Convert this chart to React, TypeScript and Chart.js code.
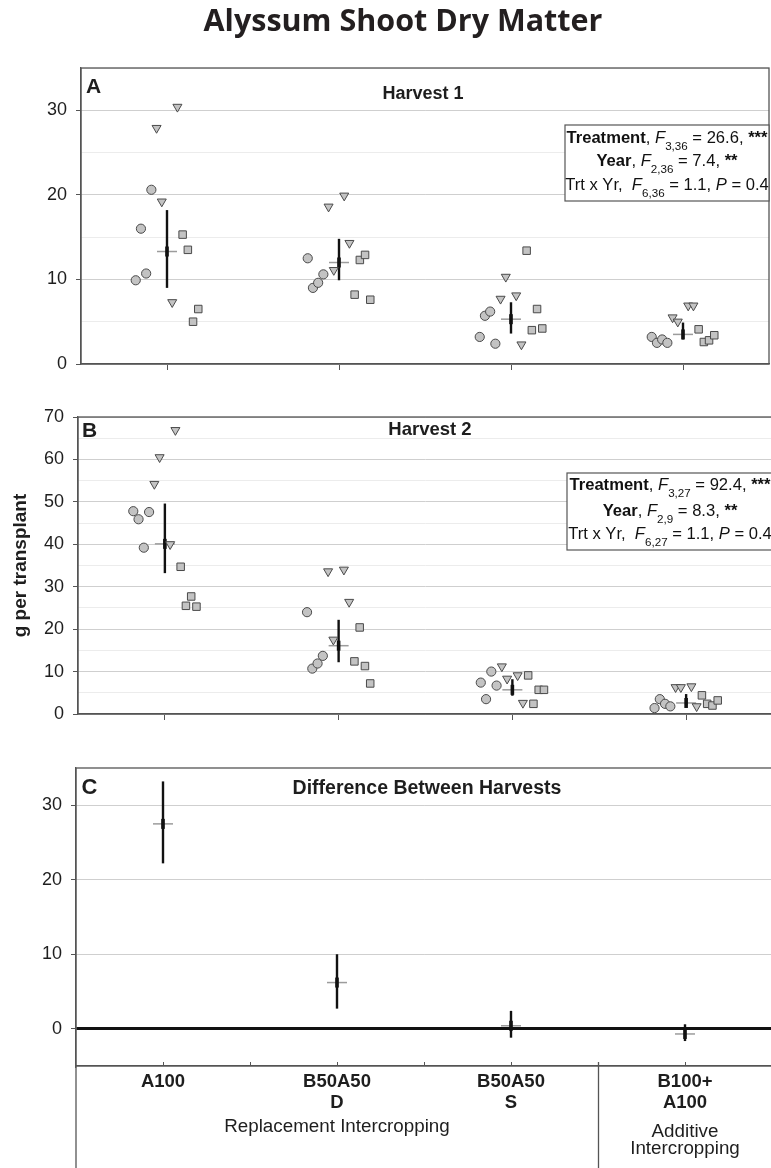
import React, { useEffect, useRef } from 'react';
import { Chart, registerables } from 'chart.js';

Chart.register(...registerables);

// ---------------- data ----------------
const CATEGORIES = ['A100', 'B50A50 D', 'B50A50 S', 'B100+ A100'];
const CATEGORY_TICK_LABELS = [['A100'], ['B50A50', 'D'], ['B50A50', 'S'], ['B100+', 'A100']];
const GROUP_LABELS = [['Replacement Intercropping'], ['Additive', 'Intercropping']];
const GROUP_SPANS = [[0, 2], [3, 3]];
const YEARS = ['Year 1', 'Year 2', 'Year 3'];

// Harvest 1 (g per transplant): four replicates per year and treatment
const H1_YEAR1 = [[9.9, 16.0, 10.7, 20.6], [12.5, 9.0, 9.6, 10.6], [3.2, 5.7, 6.2, 2.4], [3.2, 2.5, 2.9, 2.5]];
const H1_YEAR2 = [[27.9, 19.2, 7.3, 30.4], [18.6, 11.1, 19.9, 14.3], [7.7, 10.3, 8.1, 2.3], [5.5, 5.0, 6.9, 6.9]];
const H1_YEAR3 = [[15.3, 13.5, 5.0, 6.5], [8.2, 12.3, 12.9, 7.6], [13.4, 4.0, 6.5, 4.2], [4.1, 2.6, 2.8, 3.4]];
const H1_MEAN = [13.3, 12.0, 5.3, 3.5];
const H1_LOW = [9.0, 9.9, 3.6, 2.9];
const H1_HIGH = [18.2, 14.8, 7.3, 4.9];

// Harvest 2
const H2_YEAR1 = [[47.8, 45.9, 39.2, 47.6], [24.0, 10.7, 11.9, 13.7], [7.4, 3.5, 10.0, 6.7], [1.4, 3.5, 2.4, 1.8]];
const H2_YEAR2 = [[54.2, 60.5, 40.0, 66.9], [33.6, 17.5, 34.0, 26.4], [11.2, 8.3, 9.1, 2.6], [6.3, 6.3, 6.5, 1.8]];
const H2_YEAR3 = [[34.7, 25.5, 27.7, 25.3], [12.4, 20.4, 11.3, 7.2], [9.1, 2.4, 5.7, 5.7], [4.4, 2.4, 2.0, 3.2]];
const H2_MEAN = [40.1, 16.1, 5.7, 2.6];
const H2_LOW = [33.2, 12.2, 4.3, 2.1];
const H2_HIGH = [49.6, 22.2, 8.2, 4.7];

// Difference between harvests
const DIFF_MEAN = [27.5, 6.2, 0.4, -0.7];
const DIFF_LOW = [22.2, 2.7, -1.2, -1.65];
const DIFF_HIGH = [33.2, 10.0, 2.4, 0.6];

// Axis tick labels
const Y_TICK_LABELS_H1 = [0, 10, 20, 30];
const Y_TICK_LABELS_H2 = [0, 10, 20, 30, 40, 50, 60, 70];
const Y_TICK_LABELS_DIFF = [0, 10, 20, 30];

// Statistics annotations
const STATS_H1 = [
  [{ t: 'Treatment', b: true }, { t: ', ' }, { t: 'F', i: true }, { t: '3,36', s: true }, { t: ' = 26.6, ' }, { t: '***', b: true }],
  [{ t: 'Year', b: true }, { t: ', ' }, { t: 'F', i: true }, { t: '2,36', s: true }, { t: ' = 7.4, ' }, { t: '**', b: true }],
  [{ t: 'Trt x Yr,  ' }, { t: 'F', i: true }, { t: '6,36', s: true }, { t: ' = 1.1, ' }, { t: 'P', i: true }, { t: ' = 0.4' }],
];
const STATS_H2 = [
  [{ t: 'Treatment', b: true }, { t: ', ' }, { t: 'F', i: true }, { t: '3,27', s: true }, { t: ' = 92.4, ' }, { t: '***', b: true }],
  [{ t: 'Year', b: true }, { t: ', ' }, { t: 'F', i: true }, { t: '2,9', s: true }, { t: ' = 8.3, ' }, { t: '**', b: true }],
  [{ t: 'Trt x Yr,  ' }, { t: 'F', i: true }, { t: '6,27', s: true }, { t: ' = 1.1, ' }, { t: 'P', i: true }, { t: ' = 0.4' }],
];

// ---------------- styling ----------------
const FONT = "'Liberation Sans', Arial, Helvetica, sans-serif";
const TEXT = '#1e1e1e';
const AXIS = '#555555';
const SLOTS = [[-6, -5, -4, -3], [-2, -1, 1, 2], [3, 4, 5, 6]];
const STEP = 0.0303;
const MARKERS = [
  { style: 'circle', radius: 4.6, rotation: 0 },
  { style: 'triangle', radius: 5.2, rotation: 180 },
  { style: 'rect', radius: 5.3, rotation: 0 },
];

function drawRich(ctx: CanvasRenderingContext2D, segs: any[], cx: number, baseline: number, size: number) {
  const fontFor = (s: any) => `${s.i ? 'italic ' : ''}${s.b ? 'bold ' : ''}${s.s ? size * 0.7 : size}px ${FONT}`;
  let total = 0;
  for (const s of segs) {
    ctx.font = fontFor(s);
    total += ctx.measureText(s.t).width;
  }
  let x = cx - total / 2;
  ctx.textAlign = 'left';
  ctx.textBaseline = 'alphabetic';
  for (const s of segs) {
    ctx.font = fontFor(s);
    ctx.fillText(s.t, x, baseline + (s.s ? size * 0.44 : 0));
    x += ctx.measureText(s.t).width;
  }
}

function makeDecor(cfg: any) {
  return {
    id: 'decor',
    afterDatasetsDraw(chart: any) {
      const { ctx, chartArea: a } = chart;
      const xs = chart.scales.x;
      ctx.save();
      ctx.strokeStyle = AXIS;
      ctx.lineWidth = 1.3;
      ctx.strokeRect(a.left, a.top, a.right - a.left, a.bottom - a.top);
      ctx.fillStyle = TEXT;
      ctx.textBaseline = 'alphabetic';
      ctx.textAlign = 'left';
      ctx.font = `bold ${cfg.letterSize}px ${FONT}`;
      ctx.fillText(cfg.letter, a.left + cfg.letterDx, a.top + cfg.letterDy);
      ctx.textAlign = 'center';
      ctx.font = `bold ${cfg.subtitleSize}px ${FONT}`;
      ctx.fillText(cfg.subtitle, (a.left + a.right) / 2 + cfg.subtitleDx, a.top + cfg.subtitleDy);
      if (cfg.stats) {
        const b = cfg.box;
        const x0 = a.left + b.dx, y0 = a.top + b.dy, x1 = a.right, h = b.h;
        ctx.fillStyle = '#ffffff';
        ctx.fillRect(x0, y0, x1 - x0, h);
        ctx.strokeStyle = AXIS;
        ctx.lineWidth = 1.2;
        ctx.strokeRect(x0, y0, x1 - x0, h);
        ctx.fillStyle = '#111111';
        cfg.stats.forEach((line: any[], i: number) => drawRich(ctx, line, (x0 + x1) / 2, y0 + b.baselines[i], b.size));
      }
      if (cfg.groups) {
        ctx.strokeStyle = AXIS;
        ctx.lineWidth = 1;
        for (let v = 0; v < CATEGORIES.length; v += 0.5) {
          const px = Math.round(xs.getPixelForValue(v)) + 0.5;
          ctx.beginPath();
          ctx.moveTo(px, a.bottom);
          ctx.lineTo(px, a.bottom - 4);
          ctx.stroke();
        }
        ctx.lineWidth = 1.3;
        ctx.beginPath();
        ctx.moveTo(a.left, a.bottom);
        ctx.lineTo(a.left, chart.height);
        ctx.stroke();
        GROUP_SPANS.forEach((span, gi) => {
          if (gi < GROUP_SPANS.length - 1) {
            const px = Math.round(xs.getPixelForValue(span[1] + 0.5)) + 0.5;
            ctx.beginPath();
            ctx.moveTo(px, a.bottom - 4);
            ctx.lineTo(px, chart.height);
            ctx.stroke();
          }
          const cx = xs.getPixelForValue((span[0] + span[1]) / 2);
          ctx.fillStyle = TEXT;
          ctx.textAlign = 'center';
          ctx.font = `${cfg.groupSize}px ${FONT}`;
          GROUP_LABELS[gi].forEach((txt, li) => ctx.fillText(txt, cx, a.bottom + cfg.groupBaselines[gi][li]));
        });
      }
      ctx.restore();
    },
  };
}

function pointDatasets(years: number[][][]) {
  return years.map((vals, yi) => ({
    label: YEARS[yi],
    data: vals.flatMap((reps, c) => reps.map((y, j) => ({ x: c + SLOTS[yi][j] * STEP, y }))),
    pointStyle: MARKERS[yi].style,
    pointRadius: MARKERS[yi].radius,
    pointRotation: MARKERS[yi].rotation,
    pointBackgroundColor: '#c3c3c3',
    pointBorderColor: '#4a4a4a',
    pointBorderWidth: 1,
    showLine: false,
  }));
}

function summaryDatasets(mean: number[], low: number[], high: number[]) {
  const bars = low.map((lo, c) => ({
    label: `${CATEGORIES[c]} interval`,
    data: [{ x: c, y: lo }, { x: c, y: high[c] }],
    showLine: true,
    borderColor: '#111111',
    borderWidth: 2.4,
    borderCapStyle: 'butt',
    pointRadius: 0,
  }));
  const cross = {
    label: 'Mean (tick)',
    data: mean.map((y, c) => ({ x: c, y })),
    pointStyle: 'line',
    pointRadius: 5,
    pointRotation: 90,
    pointBorderColor: '#111111',
    pointBorderWidth: 3.6,
    showLine: false,
  };
  const meanLine = {
    label: 'Mean',
    data: mean.map((y, c) => ({ x: c, y })),
    pointStyle: 'line',
    pointRadius: 10,
    pointBorderColor: '#9c9c9c',
    pointBorderWidth: 1.5,
    showLine: false,
  };
  return [...bars, cross, meanLine];
}

function yAxis(min: number, max: number, labels: number[], width: number, minorStep: number | null, extra: any = {}) {
  return {
    type: 'linear',
    min,
    max,
    afterBuildTicks: (scale: any) => {
      const ticks: any[] = [];
      if (minorStep) {
        for (let v = min; v <= max + 1e-9; v += minorStep) ticks.push({ value: v });
      } else {
        labels.forEach((v) => ticks.push({ value: v }));
      }
      scale.ticks = ticks;
    },
    afterFit: (scale: any) => {
      scale.width = width;
      scale.paddingTop = 0;
      scale.paddingBottom = 0;
    },
    ticks: {
      callback: (v: number) => (labels.includes(v) ? String(v) : ''),
      font: { family: FONT, size: 18 },
      color: TEXT,
      padding: 9,
      autoSkip: false,
    },
    grid: {
      color: (c: any) => (c.tick && c.tick.value === 0 && extra.zeroLine ? '#111111' : c.tick && c.tick.value % 10 === 0 ? '#cfcfcf' : '#ececec'),
      lineWidth: (c: any) => (c.tick && c.tick.value === 0 && extra.zeroLine ? 3 : 1),
      tickColor: (c: any) => (c.tick && c.tick.value % 10 === 0 ? AXIS : 'rgba(0,0,0,0)'),
      tickWidth: 1,
      tickLength: 5,
    },
    border: { display: true, color: AXIS, width: 1.3 },
    title: extra.title || { display: false },
  };
}

function xAxis(height: number, withLabels: boolean) {
  return {
    type: 'linear',
    min: -0.5,
    max: CATEGORIES.length - 0.5,
    afterBuildTicks: (scale: any) => {
      scale.ticks = CATEGORIES.map((_, i) => ({ value: i }));
    },
    afterFit: (scale: any) => {
      scale.height = height;
      scale.paddingLeft = 0;
      scale.paddingRight = 0;
    },
    ticks: withLabels
      ? {
          display: true,
          callback: (v: number) => CATEGORY_TICK_LABELS[v] || '',
          font: { family: FONT, size: 18.5, weight: 'bold', lineHeight: 1.14 },
          color: TEXT,
          padding: 5,
          maxRotation: 0,
          autoSkip: false,
        }
      : { display: false },
    grid: withLabels
      ? { display: true, drawOnChartArea: false, drawTicks: false }
      : { display: true, drawOnChartArea: false, drawTicks: true, tickLength: 6, color: AXIS, lineWidth: 1 },
    border: { display: true, color: AXIS, width: 1.3 },
  };
}

function baseOptions(extraPlugins: any = {}) {
  return {
    animation: false,
    responsive: false,
    maintainAspectRatio: false,
    events: [],
    plugins: { legend: { display: false }, tooltip: { enabled: false }, ...extraPlugins },
  };
}

function configH1() {
  return {
    type: 'scatter',
    data: { datasets: [...pointDatasets([H1_YEAR1, H1_YEAR2, H1_YEAR3]), ...summaryDatasets(H1_MEAN, H1_LOW, H1_HIGH)] },
    options: {
      ...baseOptions({
        title: {
          display: true,
          text: 'Alyssum Shoot Dry Matter',
          font: { family: '"Open Sans", Lato, sans-serif', size: 30.5, weight: 'bold', lineHeight: 1.2 },
          color: '#231f20',
          padding: { top: 4, bottom: 27.4 },
        },
      }),
      layout: { autoPadding: false, padding: { left: 37, right: 2, top: 0, bottom: 0 } },
      scales: { x: xAxis(36, false), y: yAxis(0, 35, Y_TICK_LABELS_H1, 44, 5) },
    },
    plugins: [
      makeDecor({
        letter: 'A', letterSize: 21, letterDx: 5, letterDy: 25,
        subtitle: 'Harvest 1', subtitleSize: 18, subtitleDx: -2, subtitleDy: 31,
        stats: STATS_H1,
        box: { dx: 484, dy: 57, h: 76, baselines: [18, 41, 65], size: 16.6 },
      }),
    ],
  };
}

function configH2() {
  return {
    type: 'scatter',
    data: { datasets: [...pointDatasets([H2_YEAR1, H2_YEAR2, H2_YEAR3]), ...summaryDatasets(H2_MEAN, H2_LOW, H2_HIGH)] },
    options: {
      ...baseOptions(),
      layout: { autoPadding: false, padding: { left: 0, right: 7, top: 22, bottom: 0 } },
      scales: {
        x: xAxis(21, false),
        y: yAxis(0, 70, Y_TICK_LABELS_H2, 78, 5, {
          title: {
            display: true,
            text: 'g per transplant',
            font: { family: FONT, size: 19, weight: 'bold', lineHeight: 1.2 },
            color: TEXT,
            padding: { top: 9, bottom: 0 },
          },
        }),
      },
    },
    plugins: [
      makeDecor({
        letter: 'B', letterSize: 21, letterDx: 4, letterDy: 20,
        subtitle: 'Harvest 2', subtitleSize: 18.5, subtitleDx: 4.5, subtitleDy: 18,
        stats: STATS_H2,
        box: { dx: 489, dy: 56, h: 77, baselines: [17, 43, 66], size: 16.6 },
      }),
    ],
  };
}

function configDiff() {
  return {
    type: 'scatter',
    data: { datasets: summaryDatasets(DIFF_MEAN, DIFF_LOW, DIFF_HIGH) },
    options: {
      ...baseOptions(),
      layout: { autoPadding: false, padding: { left: 0, right: 8, top: 28, bottom: 0 } },
      scales: { x: xAxis(102, true), y: yAxis(-5, 35, Y_TICK_LABELS_DIFF, 76, null, { zeroLine: true }) },
    },
    plugins: [
      makeDecor({
        letter: 'C', letterSize: 22, letterDx: 5.5, letterDy: 26,
        subtitle: 'Difference Between Harvests', subtitleSize: 19.5, subtitleDx: 3, subtitleDy: 26,
        groups: true, groupSize: 18.8, groupBaselines: [[66], [71, 87.5]],
      }),
    ],
  };
}

function Panel({ make, top, width, height }: { make: () => any; top: number; width: number; height: number }) {
  const ref = useRef<HTMLCanvasElement | null>(null);
  useEffect(() => {
    if (!ref.current) return;
    const chart = new Chart(ref.current, make());
    return () => chart.destroy();
  }, []);
  return (
    <canvas
      ref={ref}
      width={width}
      height={height}
      style={{ position: 'absolute', left: 0, top, width, height, display: 'block' }}
    />
  );
}

export default function App() {
  return (
    <div
      style={{
        position: 'absolute',
        left: 0,
        top: 0,
        width: 771,
        height: 1168,
        overflow: 'hidden',
        background: '#ffffff',
      }}
    >
      <Panel make={configH1} top={0} width={771} height={400} />
      <Panel make={configH2} top={395} width={780} height={340} />
      <Panel make={configDiff} top={740} width={780} height={428} />
    </div>
  );
}
